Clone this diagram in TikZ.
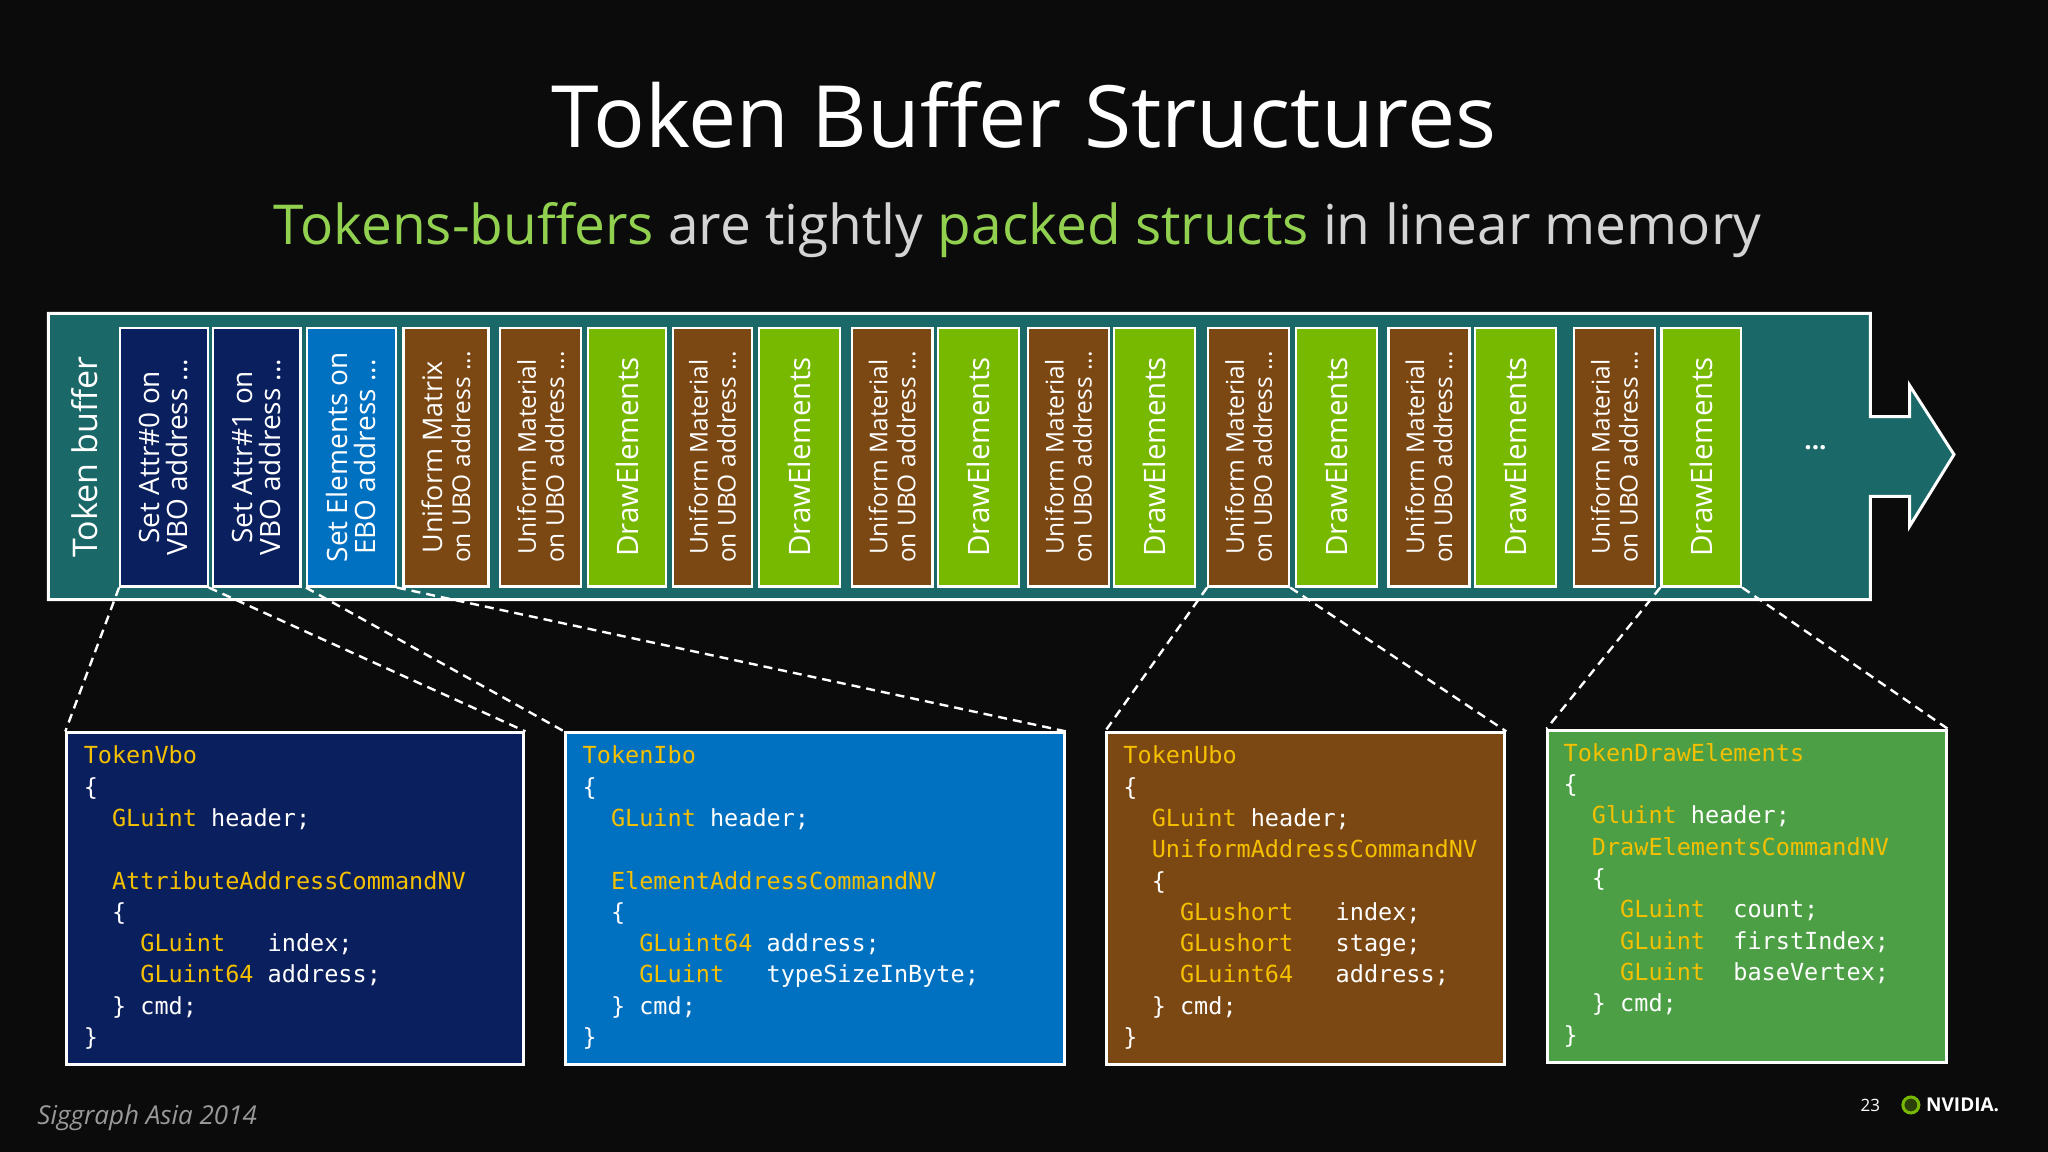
\documentclass[tikz,border=0pt]{standalone}
\usepackage{fontspec}
\setmainfont{Open Sans}
\newfontfamily\codefont{DejaVu Sans Mono}
\definecolor{bg}{HTML}{0B0B0C}
\definecolor{teal}{HTML}{1B6868}
\definecolor{navy}{HTML}{0A1F5E}
\definecolor{cblue}{HTML}{0070C0}
\definecolor{brown}{HTML}{7B4713}
\definecolor{lime}{HTML}{76B900}
\definecolor{boxgreen}{HTML}{4C9F45}
\definecolor{kw}{HTML}{F5C000}
\definecolor{subgray}{HTML}{D4D4D4}
\definecolor{subgreen}{HTML}{92D050}
\newcommand\K[1]{\textcolor{kw}{#1}}
\newcommand\I[1]{\hphantom{#1}}
\newcommand\cellbox[5]{%
  \node[cell,fill=#4,minimum width={(#3-#2)*1.306pt}] (#1) at ({(#2+#3)/2},350) {};
  \node[celltext,rotate=90] (#1t) at (#1) {#5};}
\begin{document}
\begin{tikzpicture}[x=1.306pt,y=-1.306pt,
  cell/.style={draw=white,line width=2.2pt,minimum height={198*1.306pt},inner sep=0pt},
  celltext/.style={text=white,align=center,font=\fontsize{24.5}{28}\selectfont},
  codebox/.style={draw=white,line width=3pt,anchor=north west,minimum height={254*1.306pt},inner sep=0pt},
  code/.style={anchor=north west,text=white,align=left,inner sep=0pt,font=\codefont\fontsize{23.5}{31.3}\selectfont},
  link/.style={draw=white,line width=2.4pt,dash pattern=on 9pt off 6pt}]
\fill[bg] (0,0) rectangle (1568,882);
\useasboundingbox (0,0) rectangle (1568,882);
% title
\node[text=white,font=\fontsize{86}{90}\selectfont] (title) at (784,88) {Token Buffer Structures};
\node[text=subgray,font=\fontsize{55}{60}\selectfont] (sub) at (779,176) {\textcolor{subgreen}{Tokens-buffers} are tightly \textcolor{subgreen}{packed structs} in linear memory};
% buffer
\draw[fill=teal,draw=white,line width=3pt,line join=miter] (37,240) -- (1432,240) -- (1432,319) -- (1462,319) -- (1462,295) -- (1496,348) -- (1462,403) -- (1462,380) -- (1432,380) -- (1432,459) -- (37,459) -- cycle;
\node[rotate=90,text=white,font=\fontsize{34}{36}\selectfont] (tb) at (65,350) {Token buffer};
\cellbox{c1}{92}{159}{navy}{\fontsize{28}{34}\selectfont Set Attr\#0 on\\\fontsize{28}{34}\selectfont VBO address ...}
\cellbox{c2}{163}{230}{navy}{\fontsize{28}{34}\selectfont Set Attr\#1 on\\\fontsize{28}{34}\selectfont VBO address ...}
\cellbox{c3}{235}{303}{cblue}{\fontsize{28}{34}\selectfont Set Elements on\\\fontsize{28}{34}\selectfont EBO address ...}
\cellbox{c4}{309}{374}{brown}{\fontsize{27}{32}\selectfont Uniform Matrix\\on UBO address ...}
\cellbox{c5}{383}{445}{brown}{Uniform Material\\on UBO address ...}
\cellbox{c6}{450}{510}{lime}{\fontsize{29.5}{31}\selectfont DrawElements}
\cellbox{c7}{515}{576}{brown}{Uniform Material\\on UBO address ...}
\cellbox{c8}{581}{643}{lime}{\fontsize{29.5}{31}\selectfont DrawElements}
\cellbox{c9}{652}{714}{brown}{Uniform Material\\on UBO address ...}
\cellbox{c10}{718}{780}{lime}{\fontsize{29.5}{31}\selectfont DrawElements}
\cellbox{c11}{787}{849}{brown}{Uniform Material\\on UBO address ...}
\cellbox{c12}{853}{915}{lime}{\fontsize{29.5}{31}\selectfont DrawElements}
\cellbox{c13}{925}{987}{brown}{Uniform Material\\on UBO address ...}
\cellbox{c14}{992}{1054}{lime}{\fontsize{29.5}{31}\selectfont DrawElements}
\cellbox{c15}{1063}{1125}{brown}{Uniform Material\\on UBO address ...}
\cellbox{c16}{1129}{1191}{lime}{\fontsize{29.5}{31}\selectfont DrawElements}
\cellbox{c17}{1205}{1267}{brown}{Uniform Material\\on UBO address ...}
\cellbox{c18}{1272}{1333}{lime}{\fontsize{29.5}{31}\selectfont DrawElements}
\node[text=white,font=\fontsize{26}{30}\selectfont\bfseries] (dots) at (1390,343) {...};
% code boxes
\node[codebox,fill=navy,minimum width={350*1.306pt}] (vbo) at (50,560) {};
\node[codebox,fill=cblue,minimum width={382*1.306pt}] (ibo) at (432,560) {};
\node[codebox,fill=brown,minimum width={305*1.306pt}] (ubo) at (846,560) {};
\node[codebox,fill=boxgreen,minimum width={305*1.306pt}] (dre) at (1184,558) {};
\node[code] (vbot) at (64,571) {\K{TokenVbo}\\\{\\\I{xx}\K{GLuint} header;\\ \\\I{xx}\K{AttributeAddressCommandNV}\\\I{xx}\{\\\I{xxxx}\K{GLuint}\I{xxx}index;\\\I{xxxx}\K{GLuint64} address;\\\I{xx}\} cmd;\\\}};
\node[code] (ibot) at (446,571) {\K{TokenIbo}\\\{\\\I{xx}\K{GLuint} header;\\ \\\I{xx}\K{ElementAddressCommandNV}\\\I{xx}\{\\\I{xxxx}\K{GLuint64} address;\\\I{xxxx}\K{GLuint}\I{xxx}typeSizeInByte;\\\I{xx}\} cmd;\\\}};
\node[code] (ubot) at (860,571) {\K{TokenUbo}\\\{\\\I{xx}\K{GLuint} header;\\\I{xx}\K{UniformAddressCommandNV}\\\I{xx}\{\\\I{xxxx}\K{GLushort}\I{xxx}index;\\\I{xxxx}\K{GLushort}\I{xxx}stage;\\\I{xxxx}\K{GLuint64}\I{xxx}address;\\\I{xx}\} cmd;\\\}};
\node[code] (dret) at (1197,569) {\K{TokenDrawElements}\\\{\\\I{xx}\K{Gluint} header;\\\I{xx}\K{DrawElementsCommandNV}\\\I{xx}\{\\\I{xxxx}\K{GLuint}\I{xx}count;\\\I{xxxx}\K{GLuint}\I{xx}firstIndex;\\\I{xxxx}\K{GLuint}\I{xx}baseVertex;\\\I{xx}\} cmd;\\\}};
% links
\draw[link] (c1.south west) -- (vbo.north west);
\draw[link] (c1.south east) -- (vbo.north east);
\draw[link] (c3.south west) -- (ibo.north west);
\draw[link] (c3.south east) -- (ibo.north east);
\draw[link] (c13.south west) -- (ubo.north west);
\draw[link] (c13.south east) -- (ubo.north east);
\draw[link] (c18.south west) -- (dre.north west);
\draw[link] (c18.south east) -- (dre.north east);
% footer
\node[anchor=west,text=gray!80,font=\fontsize{26}{30}\selectfont\itshape] (sig) at (26,856) {Siggraph Asia 2014};
\node[text=white,font=\fontsize{17}{20}\selectfont] (pg) at (1432,846) {23};
\node[circle,draw=lime,line width=3pt,minimum size=16pt,inner sep=0pt,fill=lime!30!bg] (logo) at (1463,846) {};
\node[anchor=west,text=white,font=\fontsize{19}{22}\selectfont\bfseries] (nv) at (1472,846) {NVIDIA.};
\end{tikzpicture}
\end{document}
